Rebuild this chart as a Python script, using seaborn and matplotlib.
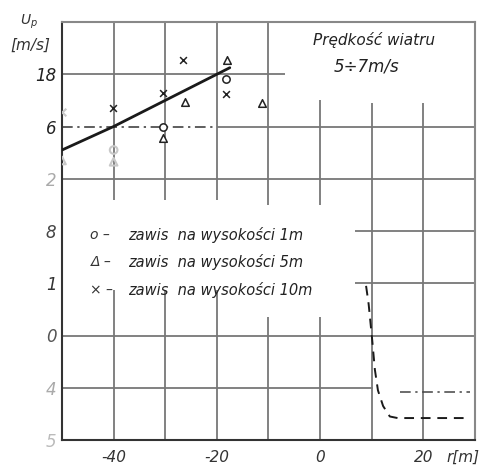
import matplotlib
matplotlib.use("Agg")
import matplotlib.pyplot as plt
import seaborn as sns
import pandas as pd

sns.set_style("white")
plt.rcParams['font.family'] = ['DejaVu Sans']
plt.rcParams['axes.unicode_minus'] = False

# ---- data ----
r_solid = [-50, -40, -20, -17.5]
u_solid = [15.1, 16.0, 18.0, 18.25]

r_dash = [8.9, 9.4, 10.1, 10.6, 11.2, 12.2, 13.5, 15.0, 29.0]
u_dash = [9.9, 9.2, 7.8, 6.7, 5.9, 5.3, 4.9, 4.84, 4.84]

r_1m = [-18.2, -30.4]
u_1m = [17.83, 16.0]
r_5m = [-18.0, -26.2, -30.4, -11.2]
u_5m = [18.56, 16.95, 15.57, 16.9]
r_10m = [-26.6, -30.4, -40.1, -18.2]
u_10m = [18.56, 17.3, 16.7, 17.26]

r_ghost = [-50, -50, -40, -40]
u_ghost = [16.57, 14.7, 15.1, 14.65]
m_ghost = ['x', '^', 'o', '^']

x_ticks = [-40, -20, 0, 20]
x_labels = ['-40', '-20', '0', '20']
y_ticks = [18, 16, 14, 12, 10, 8, 6, 4]
y_labels = ['18', '6', '2', '8', '1', '0', '4', '5']
y_label_colors = ['#222', '#222', '#aaa', '#444', '#333', '#555', '#aaa', '#bbb']

legend_lines = ['zawis  na wysokości 1m', 'zawis  na wysokości 5m', 'zawis  na wysokości 10m']
legend_syms = ['o –', 'Δ –', '× –']

fig = plt.figure(figsize=(4.82, 4.68), dpi=100)
ax = fig.add_axes([62/482, 28/468, 413/482, 418/468])
ax.set_xlim(-50, 30)
ax.set_ylim(4, 20)

gc = '#777777'
glw = 1.3
# vertical grid segments (x, y0, y1)
vsegs = [(-40, 13.2, 20), (-40, 4, 9.75), (-30, 13.2, 20), (-30, 4, 9.75),
         (-20, 13.2, 20), (-20, 4, 9.75), (-10, 13.0, 20), (-10, 4, 8.7),
         (0, 13.0, 17.0), (0, 4, 8.7), (10, 4, 16.9), (20, 4, 16.9)]
for x, y0, y1 in vsegs:
    ax.vlines(x, y0, y1, color=gc, lw=glw, zorder=1)
hsegs = [(18, -50, -6.8), (16, -20, 30), (14, -50, 30), (12, 6.8, 30),
         (10, 6.8, 30), (8, -50, 30), (6, -50, 10.3)]
for y, x0, x1 in hsegs:
    ax.hlines(y, x0, x1, color=gc, lw=glw, zorder=1)
# dash-dot construction lines
ax.hlines(16, -50, -20, color='#333', lw=1.1, linestyles=(0, (7, 3, 1.5, 3)), zorder=2)
ax.hlines(5.85, 15.5, 29, color='#444', lw=1.1, linestyles=(0, (7, 3, 1.5, 3)), zorder=2)

# curves
sns.lineplot(x=r_solid, y=u_solid, ax=ax, color='#1a1a1a', lw=2.0, sort=False, zorder=4)
sns.lineplot(x=r_dash, y=u_dash, ax=ax, color='#1a1a1a', lw=1.4, sort=False,
             linestyle=(0, (5, 3.5)), zorder=4)

# markers
sns.scatterplot(x=r_1m, y=u_1m, ax=ax, marker='o', s=28, facecolor='white',
                edgecolor='#222', linewidth=1.1, zorder=5)
sns.scatterplot(x=r_5m, y=u_5m, ax=ax, marker='^', s=30, facecolor='white',
                edgecolor='#222', linewidth=1.1, zorder=5)
sns.scatterplot(x=r_10m, y=u_10m, ax=ax, marker='x', s=24, color='#222',
                linewidth=1.1, zorder=5)
for r, u, m in zip(r_ghost, u_ghost, m_ghost):
    if m == 'x':
        ax.scatter([r], [u], marker=m, s=30, color='#c8c8c8', linewidth=1.5, zorder=3)
    else:
        ax.scatter([r], [u], marker=m, s=30, facecolor='none', edgecolor='#c8c8c8',
                   linewidth=1.5, zorder=3)

# spines
for side in ['left', 'bottom']:
    ax.spines[side].set_color('#333')
    ax.spines[side].set_linewidth(1.5)
for side in ['top', 'right']:
    ax.spines[side].set_color('#888')
    ax.spines[side].set_linewidth(1.5)

ax.set_xticks(x_ticks)
ax.set_xticklabels(x_labels, fontsize=11, style='italic', color='#333')
ax.tick_params(axis='x', length=0, pad=7)
ax.set_yticks(y_ticks)
ax.set_yticklabels(y_labels, fontsize=12, style='italic')
for lbl, c in zip(ax.get_yticklabels(), y_label_colors):
    lbl.set_color(c)
ax.tick_params(axis='y', direction='in', length=7, width=1.2, color='#333', pad=4)
ax.set_xlabel('')
ax.set_ylabel('')

# legend text
for yy, sym, txt in zip([11.85, 10.82, 9.75], legend_syms, legend_lines):
    ax.text(-44.5, yy, sym, fontsize=10, style='italic', color='#333', va='center', ha='left')
    ax.text(-37.2, yy, txt, fontsize=10.5, style='italic', color='#222', va='center', ha='left')

# title
ax.text(10.5, 19.3, 'Prędkość wiatru', fontsize=11, style='italic', color='#222',
        ha='center', va='center')
ax.text(8.9, 18.3, '5÷7m/s', fontsize=12, style='italic', color='#222',
        ha='center', va='center')

fig.text(29/482, 1 - 22/468, r'$U_p$', fontsize=10, color='#333', ha='center', va='center')
fig.text(30/482, 1 - 45/468, '[m/s]', fontsize=11, style='italic', color='#333',
         ha='center', va='center')
fig.text(446/482, 1 - 457/468, 'r[m]', fontsize=11, style='italic', color='#333',
         ha='left', va='center')

fig.savefig('out.png', dpi=100, facecolor='white')
